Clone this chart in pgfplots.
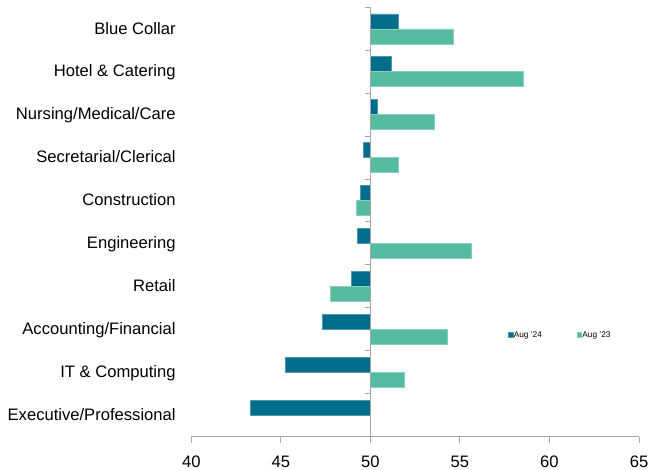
\documentclass[border=0pt]{standalone}
\usepackage{pgfplots}
\pgfplotsset{compat=1.18}
\usepackage{pgfplotstable}
\usepackage{fontspec}
\setmainfont{Liberation Sans}

\definecolor{aug24}{HTML}{006E8A}
\definecolor{aug23}{HTML}{55BBA0}
\definecolor{axgray}{HTML}{A6A6A6}

% index, Aug '24, Aug '23 (index 0 = top row)
\pgfplotstableread{
idx  v24    v23
0    51.58  54.64
1    51.16  58.55
2    50.39  53.56
3    49.59  51.56
4    49.44  49.22
5    49.29  55.63
6    48.92  47.78
7    47.33  54.28
8    45.27  51.90
9    43.28  50.00
}\sectors

\begin{document}
\begin{tikzpicture}
\begin{axis}[
  name=ax,
  scale only axis, width=447.7pt, height=429.2pt,
  xbar, bar width=15pt,
  y dir=reverse,
  xmin=-10, xmax=15, ymin=-0.5, ymax=9.5,
  axis x line*=bottom, axis y line*=left,
  y axis line style={draw=none},
  x axis line style={axgray, line width=0.9pt, -},
  tick align=outside,
  xtick={-10,-5,...,15}, xticklabels={40,45,50,55,60,65},
  x tick style={axgray, line width=0.9pt},
  major tick length=6pt,
  ytick={0,...,9},
  y tick style={draw=none},
  yticklabels={Blue Collar,Hotel \& Catering,Nursing/Medical/Care,Secretarial/Clerical,Construction,Engineering,Retail,Accounting/Financial,IT \& Computing,Executive/Professional},
  xticklabel style={font=\fontsize{16.6}{20}\selectfont, inner sep=0pt, anchor=north, yshift=-13pt},
  yticklabel style={font=\fontsize{16.6}{20}\selectfont, inner sep=0pt, anchor=base east, xshift=-9.5pt, yshift=-5.3pt},
  legend columns=2,
  legend style={at={(0.707,0.2365)}, anchor=west, draw=none, fill=none, inner sep=0pt,
    font=\fontsize{8.3}{10}\selectfont, nodes={inner sep=0.6pt},
    /tikz/every even column/.append style={column sep=34pt}},
  legend image code/.code={\fill[#1] (0pt,-2.4pt) rectangle (4.8pt,2.4pt);},
]
\addplot[fill=aug24, draw=aug24!70!white, line width=0.4pt, bar shift=7.5pt,
  x filter/.expression={x-50}] table[x=v24, y=idx] {\sectors};
\addlegendentry{Aug '24}
\addplot[fill=aug23, draw=aug23!70!white, line width=0.4pt, bar shift=-7.5pt,
  x filter/.expression={x-50}] table[x=v23, y=idx] {\sectors};
\addlegendentry{Aug '23}
\draw[axgray, line width=1.3pt] (axis cs:0,-0.5) -- (axis cs:0,9.5);
\pgfplotsinvokeforeach{-0.5,0.5,...,9.5}{
  \draw[axgray, line width=0.9pt] (axis cs:0,#1) -- ++(-5pt,0pt);
}
\end{axis}
\pgfresetboundingbox
\path[use as bounding box] ([xshift=-191.3pt,yshift=-33.5pt]ax.south west) rectangle ([xshift=10pt,yshift=7.3pt]ax.north east);
\end{tikzpicture}
\end{document}
